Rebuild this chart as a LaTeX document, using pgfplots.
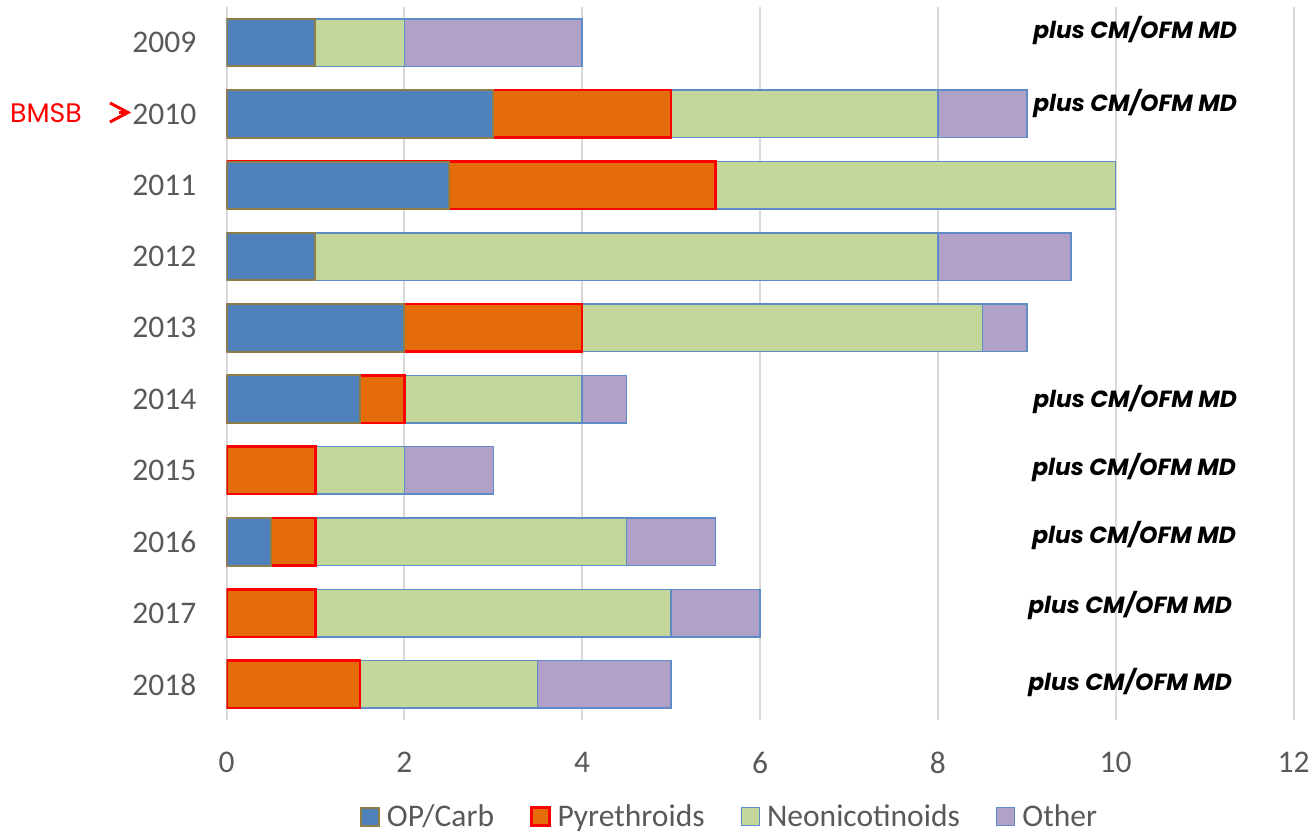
\documentclass[border=0pt]{standalone}
\usepackage{pgfplots}
\pgfplotsset{compat=1.18}
\usepackage{fontspec}
\setmainfont{Carlito}
\newfontfamily\futfont{Poppins}
\definecolor{opc}{HTML}{4F81BD}
\definecolor{opb}{HTML}{8E7F4A}
\definecolor{pyc}{HTML}{E46C0A}
\definecolor{pyb}{HTML}{FF0000}
\definecolor{neoc}{HTML}{C4D79B}
\definecolor{othc}{HTML}{B1A0C7}
\definecolor{blb}{HTML}{5F8CC6}
\definecolor{gridc}{HTML}{D9D9D9}
\definecolor{txt}{HTML}{595959}
\begin{document}
\begin{tikzpicture}
\path (0pt,0pt) rectangle (1312pt,-836pt);
\begin{axis}[
  at={(226.5pt,-7pt)}, anchor=north west,
  width=1067pt, height=713pt, scale only axis,
  xmin=0, xmax=12, ymin=2008.5, ymax=2018.5, y dir=reverse,
  xtick={0,2,...,12}, ytick={2009,2010,...,2018},
  yticklabels={2009,2010,2011,2012,2013,2014,2015,2016,2017,2018},
  xmajorgrids, major grid style={draw=gridc, line width=2pt},
  axis line style={draw=none}, major tick length=0pt,
  /pgf/number format/assume math mode=true,
  tick label style={font=\fontsize{31.5}{36}\selectfont, text=txt, inner sep=0pt},
  yticklabel style={xshift=-30pt},
  xticklabel style={yshift=-32pt},
  legend image code/.code={\draw[#1] (0pt,-9pt) rectangle (18pt,9pt);},
  legend style={at={(0.4705,-0.1355)}, anchor=center, draw=none, fill=none,
    inner sep=0pt, font=\fontsize{31.5}{36}\selectfont, text=txt,
    nodes={inner sep=0pt},
    /tikz/every odd column/.append style={column sep=7pt},
    /tikz/every even column/.append style={column sep=36pt}},
  legend columns=4,
]
\addlegendimage{fill=opc, draw=opb, line width=2pt}
\addlegendentry{OP/Carb}
\addlegendimage{fill=pyc, draw=pyb, line width=2.5pt}
\addlegendentry{Pyrethroids}
\addlegendimage{fill=neoc, draw=blb, line width=1.5pt}
\addlegendentry{Neonicotinoids}
\addlegendimage{fill=othc, draw=blb, line width=1.5pt}
\addlegendentry{Other}
% cumulative segment end positions, drawn from the outermost inward
\addplot[forget plot, xbar, bar width=0.666, fill=othc, draw=blb, line width=1.5pt]
  coordinates {(4,2009) (9,2010) (9.5,2012) (9,2013) (4.5,2014) (3,2015) (5.5,2016) (6,2017) (5,2018)};
\addplot[forget plot, xbar, bar width=0.666, fill=neoc, draw=blb, line width=1.5pt]
  coordinates {(2,2009) (8,2010) (10,2011) (8,2012) (8.5,2013) (4,2014) (2,2015) (4.5,2016) (5,2017) (3.5,2018)};
\addplot[forget plot, xbar, bar width=0.666, fill=pyc, draw=pyb, line width=2.5pt]
  coordinates {(5,2010) (5.5,2011) (4,2013) (2,2014) (1,2015) (1,2016) (1,2017) (1.5,2018)};
\addplot[forget plot, xbar, bar width=0.666, fill=opc, draw=opb, line width=2pt]
  coordinates {(1,2009) (3,2010) (2.5,2011) (1,2012) (2,2013) (1.5,2014) (0.5,2016)};
\end{axis}
\begin{scope}[x=1pt, y=1pt, every node/.style={anchor=base east, inner sep=0pt,
    font=\futfont\bfseries\itshape\fontsize{23.4}{28}\selectfont}]
\node at (1237,-38) {plus CM/OFM MD};
\node at (1237,-111.7) {plus CM/OFM MD};
\node at (1237,-407.5) {plus CM/OFM MD};
\node at (1236,-475.5) {plus CM/OFM MD};
\node at (1236,-543.5) {plus CM/OFM MD};
\node at (1232,-613) {plus CM/OFM MD};
\node at (1232,-690) {plus CM/OFM MD};
\end{scope}
\begin{scope}[x=1pt, y=1pt]
\node[anchor=base west, inner sep=0pt, text=red, font=\futfont\fontsize{26.8}{30}\selectfont] at (10,-122.7) {BMSB};
\draw[red, line width=3pt, line join=miter] (110,-103)--(128,-112.5)--(110,-122);
\draw[red, line width=3pt] (119,-112.5)--(128,-112.5);
\end{scope}
\end{tikzpicture}
\end{document}
